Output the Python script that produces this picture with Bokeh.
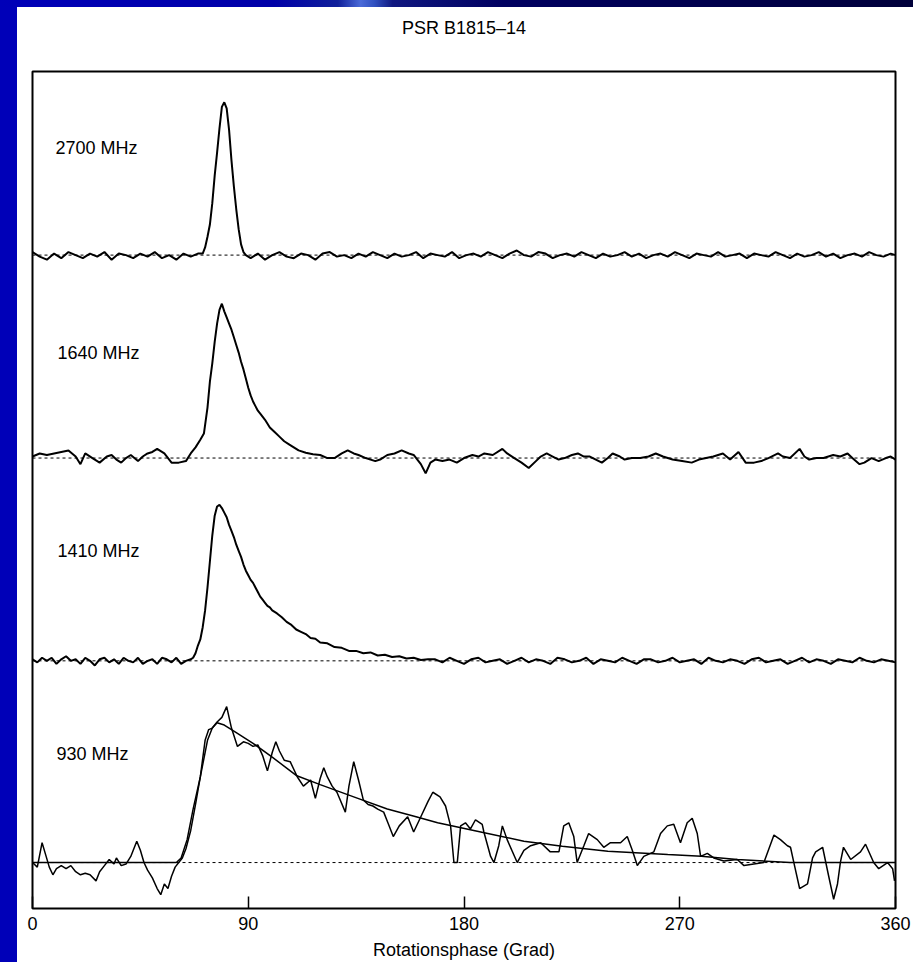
from bokeh.plotting import figure
from bokeh.models import Range1d, Span, Label, Div, FixedTicker, Title
from bokeh.layouts import column, row
from bokeh.embed import file_html
from bokeh.resources import INLINE

# ---------------- data ----------------
TITLE = "PSR B1815\u201314"
X_LABEL = "Rotationsphase (Grad)"
X_TICKS = [0, 90, 180, 270, 360]
FREQ_LABELS = ["2700 MHz", "1640 MHz", "1410 MHz", "930 MHz"]
OFFSETS = [3.975, 2.647, 1.320, 0.0]          # baseline of each profile
LABEL_PHASE = [9.6, 10.4, 10.4, 10.0]
LABEL_LEVEL = [0.70, 0.69, 0.72, 0.71]        # label height above baseline

# (phase in degrees, normalised intensity)
PROFILE_2700 = [
    (0, 0.02), (3, -0.01), (6, -0.03), (9, 0.01), (12, -0.02), (15, 0.02), (18, 0.0), (21, -0.02),
    (24, 0.01), (27, -0.01), (30, 0.02), (33, -0.03), (36, 0.01), (39, 0.0), (42, -0.02), (45, 0.01),
    (48, -0.01), (51, 0.02), (54, -0.02), (57, 0.0), (60, -0.03), (63, 0.01), (66, -0.01), (69, 0.01),
    (71, 0.01), (72, 0.05), (73, 0.12), (74, 0.2), (75, 0.34), (76, 0.52), (77, 0.67), (78, 0.83),
    (79, 0.97), (80, 1.0), (81, 0.96), (82, 0.82), (83, 0.62), (84, 0.45), (85, 0.3), (86, 0.17),
    (87, 0.07), (88, 0.02), (89, 0.0),
    (91, -0.02), (94, 0.01), (97, -0.03), (100, 0.0), (103, 0.02), (106, -0.01), (109, -0.02), (112, 0.01),
    (115, 0.0), (118, -0.03), (121, 0.01), (124, 0.02), (127, -0.01), (130, 0.0), (133, -0.02), (136, 0.01),
    (139, -0.01), (142, 0.02), (145, 0.0), (148, -0.02), (151, 0.01), (154, -0.01), (157, 0.0), (160, 0.02),
    (163, -0.02), (166, 0.01), (169, 0.0), (172, -0.01), (175, 0.02), (178, -0.02), (181, 0.0), (184, 0.01),
    (187, -0.01), (190, 0.02), (193, 0.0), (196, -0.02), (199, 0.01), (202, 0.03), (205, 0.0), (208, -0.01),
    (211, 0.02), (214, 0.01), (217, -0.02), (220, 0.0), (223, 0.01), (226, -0.01), (229, 0.02), (232, 0.0),
    (235, -0.02), (238, 0.01), (241, -0.01), (244, 0.0), (247, 0.02), (250, -0.01), (253, 0.01), (256, -0.02),
    (259, 0.0), (262, 0.01), (265, -0.01), (268, 0.02), (271, 0.0), (274, -0.02), (277, 0.01), (280, 0.0),
    (283, -0.01), (286, 0.02), (289, -0.01), (292, 0.0), (295, 0.01), (298, -0.02), (301, 0.01), (304, 0.0),
    (307, -0.01), (310, 0.02), (313, 0.0), (316, -0.02), (319, 0.01), (322, -0.01), (325, 0.0), (328, 0.02),
    (331, -0.01), (334, 0.01), (337, -0.02), (340, 0.0), (343, 0.01), (346, -0.01), (349, 0.02), (352, 0.0),
    (355, -0.01), (358, 0.01), (360, 0.0),
]

PROFILE_1640 = [
    (0, 0.01), (3, 0.03), (6, 0.02), (9, 0.03), (12, 0.04), (15, 0.05), (18, 0.01), (20, -0.04), (22, 0.03),
    (25, 0.0), (28, -0.03), (31, 0.01), (33, 0.02), (35, -0.01), (37, -0.03), (39, 0.0), (41, 0.02), (44, -0.02),
    (46, 0.01), (48, 0.03), (50, 0.04), (52, 0.06), (55, 0.03), (58, -0.03), (61, -0.03), (64, -0.02), (66, 0.03),
    (68, 0.07), (70, 0.12), (71.5, 0.16), (73, 0.33), (74, 0.5), (75, 0.62), (76, 0.76), (77, 0.88), (78, 0.97),
    (79, 1.01), (80, 0.96), (81, 0.92), (82, 0.88), (83, 0.84), (84, 0.79), (85, 0.74), (86, 0.69), (87, 0.63),
    (88, 0.58), (89, 0.52), (90, 0.46), (91, 0.41), (92, 0.37), (93, 0.34), (94, 0.31), (95, 0.29), (97, 0.25),
    (99, 0.2), (101, 0.17), (103, 0.14), (105, 0.11), (107, 0.09), (109, 0.07), (111, 0.05), (114, 0.035),
    (117, 0.025), (120, 0.02), (123, 0.0), (126, 0.0), (129, 0.03), (131.5, 0.05), (134, 0.03), (136, 0.02),
    (139, 0.0), (143, -0.02), (145, -0.01), (148, 0.02), (151, 0.03), (154, 0.05), (157, 0.03), (159, 0.02),
    (162, -0.04), (164, -0.1), (166, -0.03), (168, -0.01), (171, -0.02), (174, -0.01), (177, -0.03), (180, 0.0),
    (183.5, 0.02), (186, 0.01), (188.5, 0.03), (192, 0.02), (196, 0.06), (198, 0.03), (201, 0.0), (204, -0.03),
    (207, -0.065), (210, -0.02), (212, 0.01), (214.5, 0.03), (217, 0.01), (219.5, -0.01), (222, 0.0), (225, 0.02),
    (227.5, 0.03), (230, 0.01), (232.5, 0.01), (235, -0.01), (237.5, -0.03), (240, 0.0), (242, 0.03), (245, 0.01),
    (247, -0.01), (250, 0.0), (253.5, 0.0), (257, 0.01), (260, 0.03), (263, 0.01), (267, -0.01), (271, -0.02),
    (275, -0.03), (278, -0.01), (281, 0.0), (284, 0.01), (288, 0.03), (291, -0.01), (294.5, 0.04), (297.5, -0.03),
    (301, -0.03), (304, -0.02), (307, 0.0), (311, 0.03), (313, 0.01), (316, 0.0), (320, 0.06), (322, 0.01),
    (324, -0.01), (327, 0.0), (330, 0.0), (334, 0.02), (337, 0.01), (340, 0.03), (342, 0.0), (345, -0.04),
    (347, -0.03), (350, 0.0), (353, -0.02), (356, 0.0), (358, 0.01), (360, -0.01),
]

PROFILE_1410 = [
    (0, 0.01), (2, -0.01), (4, 0.02), (6, 0.0), (8, 0.02), (10, -0.02), (12, 0.01), (14, 0.03), (16, 0.0),
    (18, 0.01), (20, -0.02), (22, 0.02), (24, 0.0), (26, -0.03), (28, 0.01), (30, 0.02), (32, -0.01), (34, 0.01),
    (36, -0.02), (38, 0.02), (40, 0.0), (42, -0.01), (44, 0.02), (46, -0.02), (48, 0.0), (50, 0.01), (52, -0.02),
    (54, 0.02), (56, 0.01), (58, -0.01), (60, 0.02), (62, -0.02), (64, 0.0), (66, 0.01),
    (67, 0.02), (68, 0.05), (69, 0.1), (70, 0.14), (71, 0.22), (72, 0.33), (73, 0.48), (74, 0.65), (75, 0.82),
    (76, 0.95), (77, 1.01), (78, 1.02), (79, 1.0), (80, 0.97), (81, 0.94), (82, 0.89), (83, 0.85), (84, 0.81),
    (85, 0.76), (86, 0.72), (87, 0.68), (88, 0.63), (89, 0.59), (90, 0.56), (91, 0.53), (92, 0.51), (93, 0.48),
    (94, 0.45), (95, 0.42), (96, 0.4), (97, 0.38), (98, 0.36), (99, 0.35), (100, 0.33), (102, 0.31), (104, 0.285),
    (106, 0.255), (108, 0.235), (110, 0.205), (112, 0.19), (114, 0.175), (116, 0.15), (118, 0.145), (120, 0.12),
    (123, 0.115), (126, 0.09), (129, 0.085), (132, 0.065), (135, 0.065), (138, 0.05), (141, 0.055), (144, 0.035),
    (147, 0.04), (150, 0.025), (153, 0.03), (156, 0.015), (159, 0.02), (162, 0.005), (165, 0.01),
    (168, 0.01), (171, -0.01), (174, 0.02), (177, 0.0), (180, -0.02), (183, 0.01), (186, 0.02), (189, -0.01),
    (192, 0.0), (195, 0.01), (198, -0.02), (201, 0.0), (204, 0.02), (207, -0.01), (210, 0.01), (213, 0.0),
    (216, -0.02), (219, 0.02), (222, 0.01), (225, -0.01), (228, 0.0), (231, 0.02), (234, -0.02), (237, 0.01),
    (240, 0.0), (243, -0.01), (246, 0.02), (249, 0.0), (252, -0.02), (255, 0.01), (258, 0.01), (261, -0.01),
    (264, 0.0), (267, 0.02), (270, -0.01), (273, 0.0), (276, 0.01), (279, -0.02), (282, 0.02), (285, 0.0),
    (288, -0.01), (291, 0.01), (294, 0.0), (297, -0.02), (300, 0.01), (303, 0.02), (306, -0.01), (309, 0.0),
    (312, 0.01), (315, -0.02), (318, 0.0), (321, 0.02), (324, -0.01), (327, 0.01), (330, 0.0), (333, -0.02),
    (336, 0.01), (339, 0.0), (342, -0.01), (345, 0.02), (348, 0.0), (351, -0.01), (354, 0.01), (357, 0.0),
    (360, -0.01),
]

PROFILE_930 = [
    (0, 0.0), (2, -0.03), (4, 0.13), (5.5, 0.05), (7, -0.03), (8.5, -0.08), (10, -0.04), (12, -0.02), (14, -0.04),
    (16, -0.02), (18, -0.06), (20, -0.08), (22, -0.07), (24, -0.08), (26.5, -0.12), (28, -0.06), (30, -0.02),
    (32, 0.02), (34, -0.01), (35, 0.03), (37, -0.02), (39, -0.01), (41, 0.04), (43.5, 0.14), (45, 0.08),
    (46.5, 0.0), (48, -0.05), (50, -0.1), (52, -0.17), (53.5, -0.21), (55, -0.14), (56.5, -0.17), (58, -0.09),
    (59.5, -0.03), (61, 0.0), (62.5, 0.03), (64, 0.09), (66, 0.21), (68, 0.38), (70, 0.56), (72, 0.8),
    (73.5, 0.87), (75, 0.88), (77, 0.92), (79, 0.95), (81, 1.02), (83, 0.88), (85.5, 0.76), (88, 0.79),
    (90, 0.78), (92, 0.76), (94, 0.77), (96, 0.7), (98, 0.6), (100, 0.72), (101.5, 0.79), (103, 0.73),
    (105, 0.67), (107.5, 0.66), (110.5, 0.56), (113, 0.5), (116, 0.54), (118, 0.42), (120, 0.55), (121.5, 0.62),
    (123, 0.56), (125, 0.5), (127, 0.46), (130.5, 0.33), (132, 0.5), (134, 0.66), (136, 0.54), (138, 0.41),
    (140, 0.38), (142, 0.37), (144, 0.35), (146.5, 0.33), (148.5, 0.25), (150.5, 0.17), (153, 0.24),
    (156.5, 0.3), (159, 0.2), (162, 0.3), (165, 0.4), (167, 0.46), (170, 0.43), (172.3, 0.37), (174.4, 0.24),
    (175.8, 0.0), (177.2, 0.0), (178.6, 0.24), (180.6, 0.26), (182.7, 0.22), (184.8, 0.28), (187.6, 0.25),
    (188.3, 0.2), (191.1, 0.04), (192.5, 0.0), (194.5, 0.11), (196, 0.24), (198, 0.15), (202.2, 0.0),
    (205, 0.08), (207.8, 0.11), (212, 0.13), (216, 0.07), (219.6, 0.07), (221.6, 0.24), (223.7, 0.26),
    (225.8, 0.17), (227.2, 0.0), (230, 0.11), (232, 0.19), (235.6, 0.15), (238.3, 0.1), (241.1, 0.13),
    (245.3, 0.13), (248.1, 0.17), (250.2, 0.08), (252.3, -0.02), (255, 0.04), (259.2, 0.07), (262, 0.19),
    (264.8, 0.24), (267.5, 0.25), (270.3, 0.13), (273.1, 0.26), (275.2, 0.29), (277.3, 0.19), (278.7, 0.04),
    (281.5, 0.06), (284.2, 0.03), (288.4, 0.01), (294, 0.02), (296.8, -0.02), (300.9, -0.01), (305.1, 0.0),
    (309.3, 0.18), (312, 0.15), (314.9, 0.11), (316.2, 0.1), (317.6, 0.0), (320, -0.17), (323.3, -0.14),
    (325.4, 0.03), (326.7, 0.07), (329.6, 0.1), (332, -0.08), (334.2, -0.24), (335.8, -0.14), (337, 0.0),
    (338.3, 0.1), (341.3, 0.02), (345.4, 0.07), (347.5, 0.12), (350.9, 0.0), (353, -0.04), (356.7, 0.0),
    (358.8, -0.04), (359.6, -0.12),
]

FIT_930 = [
    (0, 0.0), (30, 0.0), (60, 0.0), (62, 0.03), (64.5, 0.15), (67, 0.35), (70, 0.56), (73, 0.8), (75, 0.88),
    (77, 0.915), (80, 0.9), (85, 0.85), (92, 0.78), (100, 0.69), (110, 0.57), (120, 0.51), (134, 0.43),
    (148, 0.35), (160, 0.3), (169, 0.26), (187, 0.2), (205, 0.14), (221, 0.107), (240, 0.074), (265, 0.052),
    (279, 0.041), (294, 0.02), (316, 0.0), (340, 0.0), (360, 0.0),
]

PROFILES = [PROFILE_2700, PROFILE_1640, PROFILE_1410, PROFILE_930]
LINE_WIDTHS = [2.0, 2.0, 2.0, 1.5]

FONT = "Liberation Sans"

# ---------------- figure ----------------
p = figure(width=896, height=955, output_backend="svg", toolbar_location=None,
           x_range=Range1d(0, 360), y_range=Range1d(-0.3007, 5.1765),
           min_border_left=15, min_border_right=18, min_border_top=64, min_border_bottom=53)

p.background_fill_color = "white"
p.border_fill_color = "white"
p.outline_line_color = "black"
p.outline_line_width = 2
p.xgrid.visible = False
p.ygrid.visible = False
p.yaxis.visible = False

# spacer between frame and title, so the title sits higher
spacer = Title(text=" ", text_font=FONT, text_font_size="18px", standoff=4)
p.add_layout(spacer, "above")

p.title.text = TITLE
p.title.align = "center"
p.title.text_font = FONT
p.title.text_font_size = "18px"
p.title.text_font_style = "normal"
p.title.text_color = "black"
p.title.standoff = 16

ax = p.xaxis[0]
ax.ticker = FixedTicker(ticks=X_TICKS)
ax.axis_line_color = None
ax.major_tick_in = 12
ax.major_tick_out = 0
ax.major_tick_line_color = "black"
ax.major_tick_line_width = 1.5
ax.minor_tick_line_color = None
ax.major_label_standoff = 8
ax.major_label_text_font = FONT
ax.major_label_text_font_size = "18px"
ax.major_label_text_color = "black"
ax.axis_label = X_LABEL
ax.axis_label_standoff = 7
ax.axis_label_text_font = FONT
ax.axis_label_text_font_size = "18px"
ax.axis_label_text_font_style = "normal"
ax.axis_label_text_color = "black"

for off in OFFSETS:
    span = Span(location=off, dimension="width", line_color="black", line_width=1,
                line_dash="3 3", level="underlay")
    p.add_layout(span)

for prof, off, lw in zip(PROFILES, OFFSETS, LINE_WIDTHS):
    xs = [ph for ph, _ in prof]
    ys = [off + v for _, v in prof]
    p.line(xs, ys, line_color="black", line_width=lw)

fx = [ph for ph, _ in FIT_930]
fy = [OFFSETS[3] + v for _, v in FIT_930]
p.line(fx, fy, line_color="black", line_width=1.5)

for txt, lx, lv, off in zip(FREQ_LABELS, LABEL_PHASE, LABEL_LEVEL, OFFSETS):
    p.add_layout(Label(x=lx, y=off + lv, text=txt, text_font=FONT, text_font_size="18px",
                       text_color="black", text_baseline="middle", text_align="left"))

top_band = Div(text="", width=913, height=7, margin=0,
               styles={"background": "linear-gradient(90deg, #0000b8 0%, #0000a8 30%, #10209a 37%, "
                                     "#4a6ad8 39.5%, #3050c0 41%, #101880 43%, #000060 55%, #00003a 100%)"})
left_band = Div(text="", width=17, height=955, margin=0, styles={"background": "#0000b8"})

layout = column(top_band, row(left_band, p, spacing=0), spacing=0)

open("out.html", "w").write(file_html(layout, INLINE))
